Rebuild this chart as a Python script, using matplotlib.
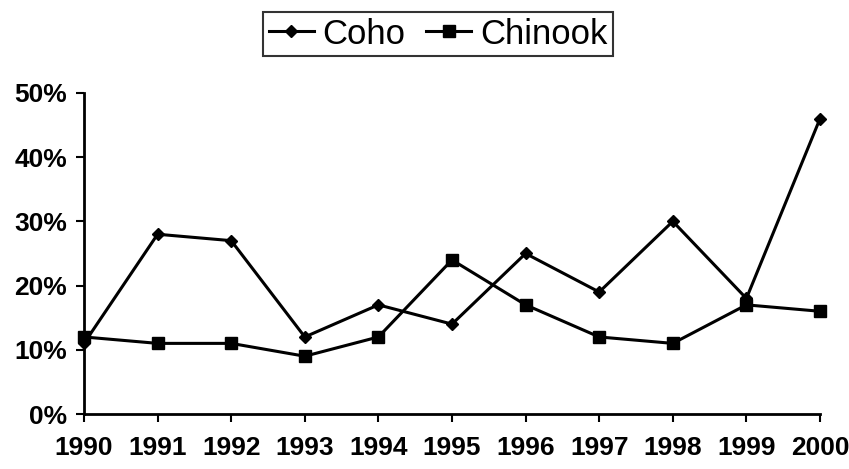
import matplotlib
matplotlib.use("Agg")
import matplotlib.pyplot as plt
from matplotlib.ticker import FuncFormatter

years = [1990, 1991, 1992, 1993, 1994, 1995, 1996, 1997, 1998, 1999, 2000]
coho = [0.11, 0.28, 0.27, 0.12, 0.17, 0.14, 0.25, 0.19, 0.30, 0.18, 0.46]
chinook = [0.12, 0.11, 0.11, 0.09, 0.12, 0.24, 0.17, 0.12, 0.11, 0.17, 0.16]
yticks = [0.0, 0.1, 0.2, 0.3, 0.4, 0.5]

plt.rcParams['font.family'] = ['Liberation Sans', 'DejaVu Sans']

fig = plt.figure(figsize=(8.49, 4.69), dpi=100)
ax = fig.add_axes([84/849, 1 - 414/469, (820-84)/849, (414-93)/469])

ax.plot(years, coho, color='black', lw=2.2, marker='D', ms=6, label='Coho', clip_on=False)
ax.plot(years, chinook, color='black', lw=2.2, marker='s', ms=9, label='Chinook', clip_on=False)

ax.set_xlim(1990, 2000)
ax.set_ylim(0, 0.5)
ax.set_xticks(years)
ax.set_yticks(yticks)
ax.yaxis.set_major_formatter(FuncFormatter(lambda v, p: f"{v*100:.0f}%"))
for s in ['top', 'right']:
    ax.spines[s].set_visible(False)
for s in ['left', 'bottom']:
    ax.spines[s].set_linewidth(2)
ax.tick_params(axis='both', direction='out', width=1.5, length=6, labelsize=19)
for lab in ax.get_xticklabels() + ax.get_yticklabels():
    lab.set_fontweight('bold')
ax.tick_params(axis='x', pad=10)
ax.tick_params(axis='y', pad=6)

leg = fig.legend(loc='center', bbox_to_anchor=(438/849, 1 - 34/469), ncol=2,
                 fontsize=25, frameon=True, fancybox=False, handlelength=1.3,
                 handletextpad=0.25, columnspacing=0.6, borderpad=0.15,
                 borderaxespad=0)
leg.get_frame().set_edgecolor('black')
leg.get_frame().set_linewidth(1.5)

fig.savefig('out.png', dpi=100)
